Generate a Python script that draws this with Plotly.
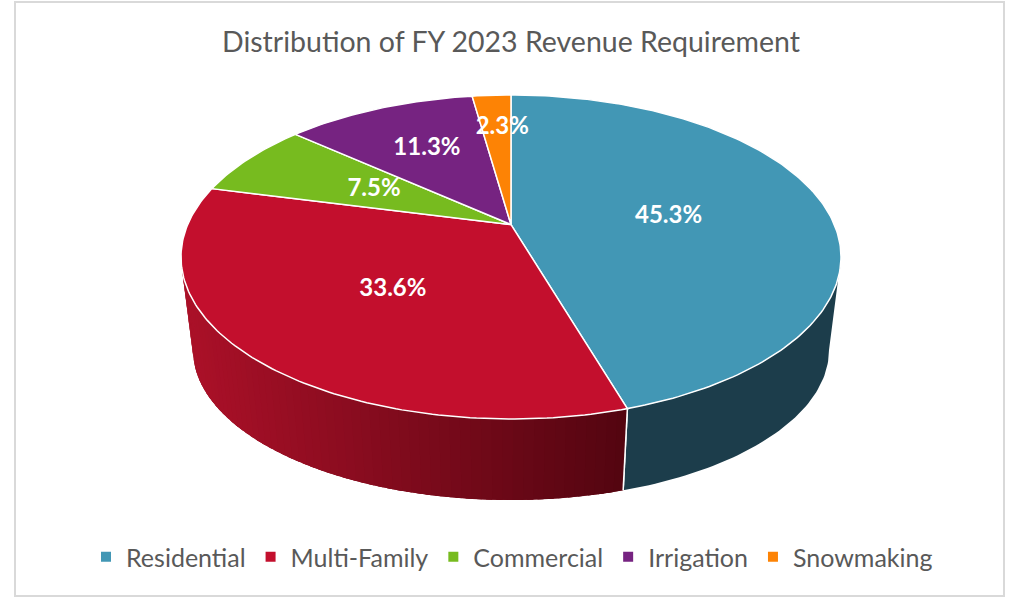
import numpy as np
import plotly.graph_objects as go

# ---------------- data ----------------
categories = ["Residential", "Multi-Family", "Commercial", "Irrigation", "Snowmaking"]
shares = [45.3, 33.6, 7.5, 11.3, 2.3]
label_texts = ["45.3%", "33.6%", "7.5%", "11.3%", "2.3%"]
title_text = "Distribution of FY 2023 Revenue Requirement"

# ---------------- styles ----------------
top_colors = ["#4297b5", "#c30f2d", "#77bb1f", "#762381", "#fd8305"]
side_light = ["#1c3d4b", "#aa1028", "#4f7d14", "#4e1756", "#a85703"]
side_dark = ["#1c3d4b", "#520510", "#3e6410", "#3c1142", "#803f02"]
label_radius = [0.5, 0.5, 0.5, 0.6, 0.72]
label_dx = [0, 2, 0, 0, 6]
label_dy = [4, 5, 0, -2, 1]

W, H = 1015, 597
TOP = dict(cx=511.0, cy=257.0, rx=330.0, ry=162.0)
BOT = dict(cx=511.0, cy=350.0, rx=318.0, ry=150.0)
TILT = 0.2  # perspective shift of the pie centre toward the back


def project(theta_deg, r, E):
    th = np.radians(np.asarray(theta_deg, dtype=float))
    x = r * np.sin(th)
    y = r * np.cos(th)
    d = 1 + TILT * y
    X = x * np.sqrt(1 - TILT ** 2) / d
    Y = (y + TILT) / d
    return E["cx"] + E["rx"] * X, E["cy"] - E["ry"] * Y


def hex2rgb(h):
    h = h.lstrip("#")
    return np.array([int(h[i:i + 2], 16) for i in (0, 2, 4)], dtype=float)


def lerp_col(c1, c2, f):
    a, b = hex2rgb(c1), hex2rgb(c2)
    c = a + (b - a) * min(max(f, 0), 1)
    return "rgb(%d,%d,%d)" % tuple(np.round(c))


def wall_poly(a0, a1, n=8):
    th = np.linspace(a0, a1, n)
    tx, ty = project(th, 1, TOP)
    bx, by = project(th[::-1], 1, BOT)
    return (np.concatenate([tx, bx, tx[:1]]), np.concatenate([ty, by, ty[:1]]), tx)


total = sum(shares)
ends = np.cumsum(shares) / total * 360.0
starts = np.concatenate([[0.0], ends[:-1]])
mids = (starts + ends) / 2

fig = go.Figure()

# ---------------- side walls (front half only) ----------------
lo = np.degrees(np.arccos(-TILT))
hi = 360.0 - lo
xl, _ = project(270, 1, TOP)
xr, _ = project(ends[0], 1, TOP)
for i, cat in enumerate(categories):
    a0, a1 = max(starts[i], lo), min(ends[i], hi)
    if a1 <= a0:
        continue
    # base wall in the mid colour
    px, py, _ = wall_poly(a0, a1, 60)
    base = lerp_col(side_light[i], side_dark[i], 0.5)
    fig.add_trace(go.Scatter(x=px, y=py, mode="lines", fill="toself", fillcolor=base,
                             line=dict(width=0), hoverinfo="skip", showlegend=False))
    # shading strips, slightly overlapping
    if side_light[i] != side_dark[i]:
        nstrip = max(2, int((a1 - a0) / 1.5))
        edges = np.linspace(a0, a1, nstrip + 1)
        step = edges[1] - edges[0]
        for k in range(nstrip):
            e1 = min(edges[k + 1] + step * 0.6, a1)
            px, py, tx = wall_poly(edges[k], e1, 5)
            f = (np.mean(tx) - xl) / (xr - xl)
            col = lerp_col(side_light[i], side_dark[i], f)
            fig.add_trace(go.Scatter(x=px, y=py, mode="lines", fill="toself", fillcolor=col,
                                     line=dict(width=0), hoverinfo="skip", showlegend=False))
    # white separators at slice borders on the wall
    for a in (a0, a1):
        if a in (lo, hi):
            continue
        tx, ty = project([a], 1, TOP)
        bx, by = project([a], 1, BOT)
        fig.add_trace(go.Scatter(x=[tx[0], bx[0]], y=[ty[0], by[0]], mode="lines",
                                 line=dict(color="white", width=1.5),
                                 hoverinfo="skip", showlegend=False))

# ---------------- top face ----------------
ax, ay = project([0], 0, TOP)
for i, cat in enumerate(categories):
    th = np.linspace(starts[i], ends[i], max(3, int(shares[i] * 4)))
    px, py = project(th, 1, TOP)
    px = np.concatenate([ax, px, ax])
    py = np.concatenate([ay, py, ay])
    fig.add_trace(go.Scatter(x=px, y=py, mode="lines", fill="toself",
                             fillcolor=top_colors[i], line=dict(color="white", width=1.5),
                             name=cat, hoverinfo="name", showlegend=False))

# ---------------- data labels ----------------
lx, ly = [], []
for i in range(len(categories)):
    x, y = project([mids[i]], label_radius[i], TOP)
    lx.append(x[0] + label_dx[i]); ly.append(y[0] + label_dy[i])
fig.add_trace(go.Scatter(x=lx, y=ly, mode="text", text=label_texts,
                         textfont=dict(family="Lato", size=24, color="white", weight="bold"),
                         hoverinfo="skip", showlegend=False))

# ---------------- legend entries ----------------
for i, cat in enumerate(categories):
    fig.add_trace(go.Scatter(x=[None], y=[None], mode="markers", name=cat,
                             marker=dict(symbol="square", size=10, color=top_colors[i])))

fig.update_layout(
    width=W, height=H,
    margin=dict(l=0, r=0, t=0, b=0),
    paper_bgcolor="white", plot_bgcolor="white",
    xaxis=dict(range=[0, W], visible=False, fixedrange=True),
    yaxis=dict(range=[H, 0], visible=False, fixedrange=True),
    title=dict(text=title_text, x=511 / W, xanchor="center", y=1 - 42 / H, yanchor="middle",
               font=dict(family="Lato", size=28.5, color="#595959")),
    legend=dict(orientation="h", x=512 / W, xanchor="center", y=1 - 557 / H, yanchor="middle",
                font=dict(family="Lato", size=25, color="#595959"), bgcolor="rgba(0,0,0,0)"),
    shapes=[dict(type="rect", xref="x", yref="y", x0=15, y0=2, x1=1004, y1=596,
                 line=dict(color="#d9d9d9", width=2), layer="below")],
)

fig.write_html("out.html", config={"displayModeBar": False},
               post_script="document.body.style.margin='0';document.body.style.overflow='hidden';")
